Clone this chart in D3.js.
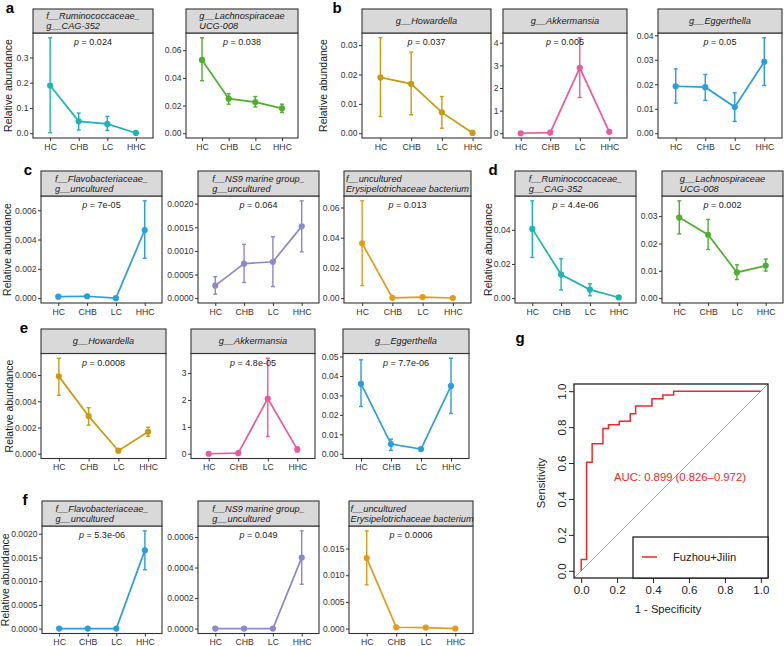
<!DOCTYPE html>
<html>
<head>
<meta charset="utf-8">
<script src="https://cdn.jsdelivr.net/npm/d3@7"></script>
<style>
  body { margin: 0; background: #fff; }
  svg { font-family: "Liberation Sans", Arial, sans-serif; }
</style>
</head>
<body>
<svg id="fig" width="784" height="646"></svg>
<script>
const groups = ["HC", "CHB", "LC", "HHC"];

// each row: [mean, lower, upper] for HC, CHB, LC, HHC
const aRumino = [[0.189, 0.002, 0.378], [0.047, 0.013, 0.080], [0.037, 0.011, 0.067], [0.001, 0.001, 0.001]];
const aLachno = [[0.053, 0.038, 0.069], [0.025, 0.021, 0.0285], [0.0225, 0.019, 0.0265], [0.018, 0.015, 0.021]];
const bHoward = [[0.019, 0.0057, 0.0325], [0.0168, 0.0063, 0.0276], [0.0071, 0.0017, 0.0125], [0.0001, 0.0001, 0.0001]];
const bAkker  = [[0.0, 0.0, 0.0], [0.03, 0.03, 0.03], [2.89, 1.58, 4.22], [0.06, 0.06, 0.06]];
const bEgger  = [[0.0192, 0.0123, 0.0263], [0.0188, 0.0134, 0.024], [0.0107, 0.0048, 0.0165], [0.0292, 0.0195, 0.039]];
const cFlavo  = [[0.0001, 0.0001, 0.0001], [0.00013, 0.00013, 0.00013], [0.0, 0.0, 0.0], [0.00465, 0.00272, 0.00664]];
const cNS9    = [[0.000265, 0.000084, 0.000455], [0.00073, 0.00033, 0.00114], [0.00077, 0.000245, 0.0013], [0.00152, 0.00098, 0.00206]];
const cErysi  = [[0.0363, 0.0083, 0.0644], [0.0002, 0.0002, 0.0002], [0.0007, 0.0007, 0.0007], [0.0001, 0.0001, 0.0001]];
const dRumino = [[0.0405, 0.0238, 0.0569], [0.0138, 0.0048, 0.023], [0.005, 0.0014, 0.0084], [0.0004, 0.0004, 0.0004]];
const dLachno = [[0.0295, 0.0235, 0.0356], [0.0232, 0.0178, 0.0288], [0.0094, 0.0068, 0.0122], [0.0119, 0.0099, 0.0143]];
const eHoward = [[0.0059, 0.00446, 0.00728], [0.00287, 0.00218, 0.00351], [0.00023, 0.0001, 0.00036], [0.00167, 0.00133, 0.00202]];
const eAkker  = [[0.0, 0.0, 0.0], [0.02, 0.02, 0.02], [2.05, 0.64, 3.55], [0.16, 0.07, 0.25]];
const eEgger  = [[0.036, 0.0243, 0.0483], [0.005, 0.0017, 0.0075], [0.0024, 0.0024, 0.0024], [0.0349, 0.0207, 0.0491]];
const fFlavo  = [[0, 0, 0], [0, 0, 0], [0, 0, 0], [0.00165, 0.00124, 0.00206]];
const fNS9    = [[0, 0, 0], [0, 0, 0], [0, 0, 0], [0.000465, 0.00029, 0.00064]];
const fErysi  = [[0.0132, 0.0082, 0.0183], [0.00025, 0.00025, 0.00025], [0.0002, 0.0002, 0.0002], [0, 0, 0]];

// y tick labels per panel
const ticksA1 = ["0.0", "0.1", "0.2", "0.3"];
const ticksA2 = ["0.00", "0.02", "0.04", "0.06"];
const ticksB1 = ["0.00", "0.01", "0.02", "0.03"];
const ticksB2 = ["0", "1", "2", "3", "4"];
const ticksB3 = ["0.00", "0.01", "0.02", "0.03", "0.04"];
const ticksC1 = ["0.000", "0.002", "0.004", "0.006"];
const ticksC2 = ["0.0000", "0.0005", "0.0010", "0.0015", "0.0020"];
const ticksC3 = ["0.00", "0.02", "0.04", "0.06"];
const ticksD1 = ["0.00", "0.02", "0.04"];
const ticksD2 = ["0.00", "0.01", "0.02", "0.03"];
const ticksE1 = ["0.000", "0.002", "0.004", "0.006"];
const ticksE2 = ["0", "1", "2", "3"];
const ticksE3 = ["0.00", "0.01", "0.02", "0.03", "0.04", "0.05"];
const ticksF1 = ["0.0000", "0.0005", "0.0010", "0.0015", "0.0020"];
const ticksF2 = ["0.0000", "0.0002", "0.0004", "0.0006"];
const ticksF3 = ["0.000", "0.005", "0.010", "0.015"];

const stripRumino = ["f__Ruminococcaceae_", "g__CAG-352"];
const stripLachno = ["g__Lachnospiraceae", "UCG-008"];
const stripHoward = ["g__Howardella"];
const stripAkker = ["g__Akkermansia"];
const stripEgger = ["g__Eggerthella"];
const stripFlavo = ["f__Flavobacteriaceae_", "g__uncultured"];
const stripNS9 = ["f__NS9 marine group_", "g__uncultured"];
const stripErysi = ["f__uncultured", "Erysipelotrichaceae bacterium"];

// ROC curve corners (1 - specificity, sensitivity)
const rocFpr = [0, 0.030, 0.061, 0.121, 0.152, 0.212, 0.273, 0.303, 0.394, 0.455, 0.515, 1.0];
const rocTpr = [0, 0.063, 0.604, 0.708, 0.792, 0.813, 0.833, 0.875, 0.917, 0.958, 0.979, 1.0];
const rocTicks = [0, 0.2, 0.4, 0.6, 0.8, 1.0];

const teal = "#1db4b6", green = "#4fae2f", gold = "#c99b12", pink = "#ea5a9c",
      blue = "#2c9ddb", purple = "#8c89ca", orange = "#e49a1a";
const ink = "#333";
const fontFamily = "'Liberation Sans', Arial, sans-serif";

const svg = d3.select("#fig");

// strip top, strip bottom (= plot top), plot bottom
const rows = [
  {st: 9, sb: 33, pb: 138},
  {st: 171, sb: 196, pb: 303},
  {st: 329, sb: 353.5, pb: 458.5},
  {st: 501, sb: 526, pb: 633.5}
];

const panels = [
  {vals: aRumino, ticks: ticksA1, strip: stripRumino, p: "0.024", color: teal, x0: 33, x1: 153, row: 0, letter: "a", lx: 10, title: 7.5},
  {vals: aLachno, ticks: ticksA2, strip: stripLachno, p: "0.038", color: green, x0: 186, x1: 298, row: 0},
  {vals: bHoward, ticks: ticksB1, strip: stripHoward, p: "0.037", color: gold, x0: 362, x1: 491, row: 0, letter: "b", lx: 337, title: 323},
  {vals: bAkker, ticks: ticksB2, strip: stripAkker, p: "0.005", color: pink, x0: 503, x1: 627, row: 0},
  {vals: bEgger, ticks: ticksB3, strip: stripEgger, p: "0.05", color: blue, x0: 658, x1: 782, row: 0},
  {vals: cFlavo, ticks: ticksC1, strip: stripFlavo, p: "7e-05", color: blue, x0: 41, x1: 162, row: 1, letter: "c", lx: 28, title: 6.5},
  {vals: cNS9, ticks: ticksC2, strip: stripNS9, p: "0.064", color: purple, x0: 198, x1: 319, row: 1},
  {vals: cErysi, ticks: ticksC3, strip: stripErysi, p: "0.013", color: orange, x0: 344, x1: 471, row: 1},
  {vals: dRumino, ticks: ticksD1, strip: stripRumino, p: "4.4e-06", color: teal, x0: 515, x1: 636, row: 1, letter: "d", lx: 493, title: 487.5},
  {vals: dLachno, ticks: ticksD2, strip: stripLachno, p: "0.002", color: green, x0: 662, x1: 783, row: 1},
  {vals: eHoward, ticks: ticksE1, strip: stripHoward, p: "0.0008", color: gold, x0: 41, x1: 166, row: 2, letter: "e", lx: 24, title: 8.5},
  {vals: eAkker, ticks: ticksE2, strip: stripAkker, p: "4.8e-05", color: pink, x0: 191, x1: 315, row: 2},
  {vals: eEgger, ticks: ticksE3, strip: stripEgger, p: "7.7e-06", color: blue, x0: 343, x1: 469, row: 2},
  {vals: fFlavo, ticks: ticksF1, strip: stripFlavo, p: "5.3e-06", color: blue, x0: 42, x1: 162, row: 3, letter: "f", lx: 25, title: 5},
  {vals: fNS9, ticks: ticksF2, strip: stripNS9, p: "0.049", color: purple, x0: 198, x1: 319, row: 3},
  {vals: fErysi, ticks: ticksF3, strip: stripErysi, p: "0.0006", color: orange, x0: 349, x1: 473, row: 3}
];

function styleAxis(sel, size, color) {
  sel.select(".domain").remove();
  sel.selectAll("line").attr("stroke", color);
  sel.selectAll("text")
    .attr("font-size", size)
    .attr("fill", color)
    .attr("font-family", fontFamily);
}

function drawPanel(cfg) {
  const r = rows[cfg.row];
  const g = svg.append("g");

  // ggplot style: discrete x with 0.6 expansion, y range + 5%, always incl. 0
  const x = d3.scaleLinear().domain([0.4, 4.6]).range([cfg.x0, cfg.x1]);
  const lo = Math.min(0, d3.min(cfg.vals, d => d[1]));
  const hi = d3.max(cfg.vals, d => d[2]);
  const pad = (hi - lo) * 0.05;
  const y = d3.scaleLinear().domain([lo - pad, hi + pad]).range([r.pb, r.sb]);

  g.append("rect")
    .attr("x", cfg.x0).attr("y", r.sb)
    .attr("width", cfg.x1 - cfg.x0).attr("height", r.pb - r.sb)
    .attr("fill", "#fff");

  const yAxis = g.append("g")
    .attr("transform", `translate(${cfg.x0},0)`)
    .call(d3.axisLeft(y)
      .tickValues(cfg.ticks.map(Number))
      .tickFormat((d, i) => cfg.ticks[i])
      .tickSize(3).tickPadding(1.5));
  styleAxis(yAxis, 8.6, ink);

  const xAxis = g.append("g")
    .attr("transform", `translate(0,${r.pb})`)
    .call(d3.axisBottom(x)
      .tickValues([1, 2, 3, 4])
      .tickFormat(d => groups[d - 1])
      .tickSize(3).tickPadding(2.5));
  styleAxis(xAxis, 8.7, ink);

  // mean line
  g.append("path")
    .datum(cfg.vals)
    .attr("d", d3.line().x((d, i) => x(i + 1)).y(d => y(d[0])))
    .attr("fill", "none")
    .attr("stroke", cfg.color)
    .attr("stroke-width", 1.7);

  // error bars
  cfg.vals.forEach((d, i) => {
    if (d[2] - d[1] <= 0) return;
    const cx = x(i + 1);
    g.append("line").attr("x1", cx).attr("x2", cx)
      .attr("y1", y(d[1])).attr("y2", y(d[2]))
      .attr("stroke", cfg.color).attr("stroke-width", 1.4);
    [d[1], d[2]].forEach(v => {
      g.append("line").attr("x1", cx - 2).attr("x2", cx + 2)
        .attr("y1", y(v)).attr("y2", y(v))
        .attr("stroke", cfg.color).attr("stroke-width", 1.4);
    });
  });

  g.selectAll("circle.pt")
    .data(cfg.vals)
    .join("circle")
    .attr("class", "pt")
    .attr("cx", (d, i) => x(i + 1))
    .attr("cy", d => y(d[0]))
    .attr("r", 3.1)
    .attr("fill", cfg.color);

  // p value
  const pt = g.append("text")
    .attr("x", x(2.5)).attr("y", r.sb + 9)
    .attr("text-anchor", "middle")
    .attr("dominant-baseline", "central")
    .attr("font-size", 9).attr("fill", "#1a1a1a");
  pt.append("tspan").attr("font-style", "italic").text("p");
  pt.append("tspan").text(" = " + cfg.p);

  // frame + strip
  g.append("rect")
    .attr("x", cfg.x0).attr("y", r.sb)
    .attr("width", cfg.x1 - cfg.x0).attr("height", r.pb - r.sb)
    .attr("fill", "none").attr("stroke", ink).attr("stroke-width", 1.1);
  g.append("rect")
    .attr("x", cfg.x0).attr("y", r.st)
    .attr("width", cfg.x1 - cfg.x0).attr("height", r.sb - r.st)
    .attr("fill", "#d9d9d9").attr("stroke", ink).attr("stroke-width", 1.1);

  const cx = (cfg.x0 + cfg.x1) / 2;
  const cy = (r.st + r.sb) / 2;
  const lines = cfg.strip.map((s, i) => g.append("text")
    .attr("y", cfg.strip.length === 1 ? cy : cy + (i - 0.5) * 10)
    .attr("dominant-baseline", "central")
    .attr("font-size", 9.2)
    .attr("font-style", "italic")
    .attr("fill", "#1a1a1a")
    .text(s));
  const maxW = d3.max(lines, t => t.node().getComputedTextLength());
  const left = Math.max(cfg.x0 + 1.5, cx - maxW / 2);
  lines.forEach(t => t.attr("x", left));

  if (cfg.letter) {
    svg.append("text")
      .attr("x", cfg.lx).attr("y", r.st - 2)
      .attr("text-anchor", "middle")
      .attr("dominant-baseline", "central")
      .attr("font-size", 15).attr("font-weight", "bold")
      .text(cfg.letter);
    svg.append("text")
      .attr("transform", `translate(${cfg.title},${(r.sb + r.pb) / 2}) rotate(-90)`)
      .attr("text-anchor", "middle")
      .attr("dominant-baseline", "central")
      .attr("font-size", 10.5).attr("fill", "#1a1a1a")
      .text("Relative abundance");
  }
}

panels.forEach(drawPanel);

// ---- panel g: ROC ----
const rx = d3.scaleLinear().domain([-0.04, 1.04]).range([574, 768]);
const ry = d3.scaleLinear().domain([-0.04, 1.04]).range([578, 384]);
const roc = svg.append("g");

roc.append("line")
  .attr("x1", rx(-0.04)).attr("y1", ry(-0.04))
  .attr("x2", rx(1.04)).attr("y2", ry(1.04))
  .attr("stroke", "#a8a8a8").attr("stroke-width", 1);

roc.append("path")
  .datum(rocFpr.map((v, i) => [v, rocTpr[i]]))
  .attr("d", d3.line().x(d => rx(d[0])).y(d => ry(d[1])).curve(d3.curveStepBefore))
  .attr("fill", "none").attr("stroke", "#ec2a2a").attr("stroke-width", 1.5);

const rxAxis = roc.append("g")
  .attr("transform", "translate(0,578)")
  .call(d3.axisBottom(rx).tickValues(rocTicks).tickFormat(d3.format(".1f")).tickSize(5).tickPadding(3));
styleAxis(rxAxis, 11.5, "#222");

const ryAxis = roc.append("g")
  .attr("transform", "translate(574,0)")
  .call(d3.axisLeft(ry).tickValues(rocTicks).tickFormat(d3.format(".1f")).tickSize(5));
styleAxis(ryAxis, 11.5, "#222");
ryAxis.selectAll("text")
  .attr("x", null).attr("dy", null)
  .attr("text-anchor", "middle")
  .attr("dominant-baseline", "central")
  .attr("transform", "translate(-12.5,0) rotate(-90)");

roc.append("rect")
  .attr("x", 574).attr("y", 384).attr("width", 194).attr("height", 194)
  .attr("fill", "none").attr("stroke", "#222").attr("stroke-width", 1.3);

roc.append("text")
  .attr("x", 680).attr("y", 477)
  .attr("text-anchor", "middle").attr("dominant-baseline", "central")
  .attr("font-size", 11.3).attr("fill", "#ec2a2a")
  .text("AUC: 0.899 (0.826\u20130.972)");

roc.append("rect")
  .attr("x", 633).attr("y", 537).attr("width", 135).attr("height", 41)
  .attr("fill", "#fff").attr("stroke", "#111").attr("stroke-width", 1.2);
roc.append("line")
  .attr("x1", 642).attr("x2", 657).attr("y1", 557).attr("y2", 557)
  .attr("stroke", "#ec2a2a").attr("stroke-width", 1.5);
roc.append("text")
  .attr("x", 673).attr("y", 557)
  .attr("dominant-baseline", "central")
  .attr("font-size", 11.2).attr("fill", "#222")
  .text("Fuzhou+Jilin");

roc.append("text")
  .attr("x", 668).attr("y", 609)
  .attr("text-anchor", "middle").attr("dominant-baseline", "central")
  .attr("font-size", 11.2).attr("fill", "#222")
  .text("1 - Specificity");
roc.append("text")
  .attr("transform", "translate(541,483) rotate(-90)")
  .attr("text-anchor", "middle").attr("dominant-baseline", "central")
  .attr("font-size", 11.2).attr("fill", "#222")
  .text("Sensitivity");

svg.append("text")
  .attr("x", 520).attr("y", 337)
  .attr("text-anchor", "middle").attr("dominant-baseline", "central")
  .attr("font-size", 15).attr("font-weight", "bold")
  .text("g");
</script>
</body>
</html>
